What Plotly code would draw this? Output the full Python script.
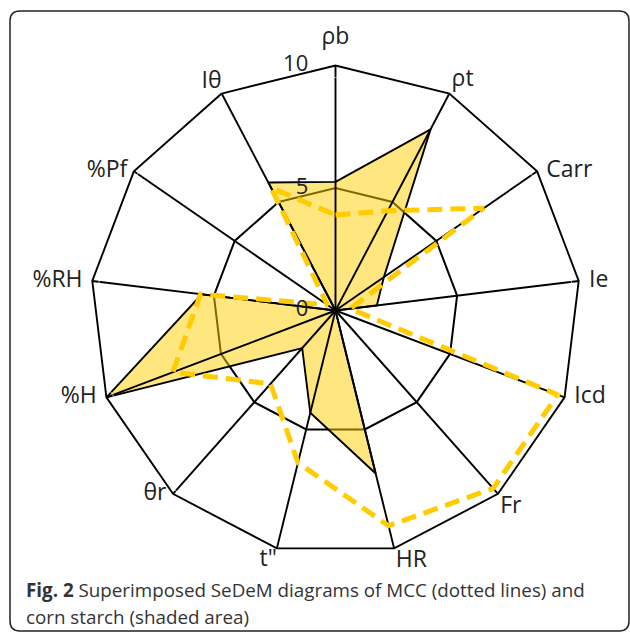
import plotly.graph_objects as go

categories = ['ρb', 'ρt', 'Carr', 'Ie', 'Icd', 'Fr', 'HR', 't"', 'θr', '%H', '%RH', '%Pf', 'Iθ']
corn_starch = [5.25, 8.35, 2.4, 1.7, 0, 0, 6.85, 4.3, 2.05, 10, 5.5, 0, 5.9]
mcc = [3.9, 4.6, 7.35, 0.6, 9.7, 9.7, 9.05, 6.4, 4.0, 7.1, 5.55, 0.4, 5.65]
tick_vals = [0, 5, 10]
tick_text = ['0', '5', '10']

# label placement style (Excel-like: labels hug the outer vertices)
label_pos = ['top center', 'top right', 'middle right', 'middle right', 'middle right',
             'bottom right', 'bottom right', 'bottom left', 'middle left', 'middle left',
             'middle left', 'middle left', 'top left']
label_pad = [24, 2, 13, 15, 14, 2, 1, 0, 9, 14, 14, 9, 0]

W, H = 630, 634
CX, CY, R = 335.5, 310.5, 245
LW = 1.9

fig = go.Figure()

# corn starch shaded area
fig.add_trace(go.Scatterpolar(
    r=corn_starch + corn_starch[:1], theta=categories + categories[:1],
    mode='lines', fill='toself', fillcolor='rgba(255,205,0,0.5)',
    line=dict(color='black', width=LW), showlegend=False, hoverinfo='skip'))

# spokes drawn above the fill
for c in categories:
    fig.add_trace(go.Scatterpolar(
        r=[0, 10], theta=[c, c], mode='lines',
        line=dict(color='black', width=LW), showlegend=False, hoverinfo='skip'))

# MCC dashed line
fig.add_trace(go.Scatterpolar(
    r=mcc + mcc[:1], theta=categories + categories[:1],
    mode='lines', line=dict(color='#FFCC00', width=5, dash='15px,8px'),
    showlegend=False, hoverinfo='skip'))

# radial tick labels on the first axis (tiny nudge off the exact pole so the
# centre label is drawn)
fig.add_trace(go.Scatterpolar(
    r=[max(v, 0.02) for v in tick_vals], theta=[categories[0]] * len(tick_vals), text=tick_text,
    mode='markers+text', textposition='middle left',
    marker=dict(size=42, color='rgba(0,0,0,0)'),
    textfont=dict(size=22, color='#222222', family='Open Sans'),
    showlegend=False, hoverinfo='skip', cliponaxis=False))

# category labels at the outer vertices
fig.add_trace(go.Scatterpolar(
    r=[10] * len(categories), theta=categories, text=categories,
    mode='markers+text', textposition=label_pos,
    marker=dict(size=label_pad, color='rgba(0,0,0,0)'),
    textfont=dict(size=23, color='#222222', family='Open Sans'),
    showlegend=False, hoverinfo='skip', cliponaxis=False))

fig.update_layout(
    width=W, height=H, margin=dict(l=0, r=0, t=0, b=0),
    paper_bgcolor='white', plot_bgcolor='white',
    font=dict(family='Open Sans', color='#222222'),
    polar=dict(
        domain=dict(x=[(CX - R) / W, (CX + R) / W], y=[(H - CY - R) / H, (H - CY + R) / H]),
        bgcolor='white', gridshape='linear',
        radialaxis=dict(range=[0, 10], tickvals=[5, 10], showticklabels=False,
                        showline=False, ticks='', angle=90,
                        gridcolor='black', gridwidth=LW, showgrid=True),
        angularaxis=dict(rotation=90, direction='clockwise', showgrid=False,
                         showline=True, linecolor='black', linewidth=LW,
                         ticks='', showticklabels=False),
    ),
)

# rounded border
def px(x, y):
    return f'{x / W:.5f},{1 - y / H:.5f}'
L, T, Rt, B, rc = 10, 11, 629, 631, 10
path = (f'M {px(L + rc, T)} L {px(Rt - rc, T)} Q {px(Rt, T)} {px(Rt, T + rc)} '
        f'L {px(Rt, B - rc)} Q {px(Rt, B)} {px(Rt - rc, B)} L {px(L + rc, B)} '
        f'Q {px(L, B)} {px(L, B - rc)} L {px(L, T + rc)} Q {px(L, T)} {px(L + rc, T)} Z')
fig.add_shape(type='path', path=path, xref='paper', yref='paper',
              line=dict(color='#222222', width=1.5))

fig.add_annotation(text='<b>Fig. 2</b> Superimposed SeDeM diagrams of MCC (dotted lines) and',
                   xref='paper', yref='paper', x=24 / W, y=1 - 590 / H, xanchor='left', yanchor='middle',
                   showarrow=False, font=dict(size=18.8, color='#333333', family='Open Sans'))
fig.add_annotation(text='corn starch (shaded area)',
                   xref='paper', yref='paper', x=24 / W, y=1 - 617 / H, xanchor='left', yanchor='middle',
                   showarrow=False, font=dict(size=18.8, color='#333333', family='Open Sans'))

fig.write_html('out.html', config={'displayModeBar': False},
               post_script="document.body.style.margin='0';")
